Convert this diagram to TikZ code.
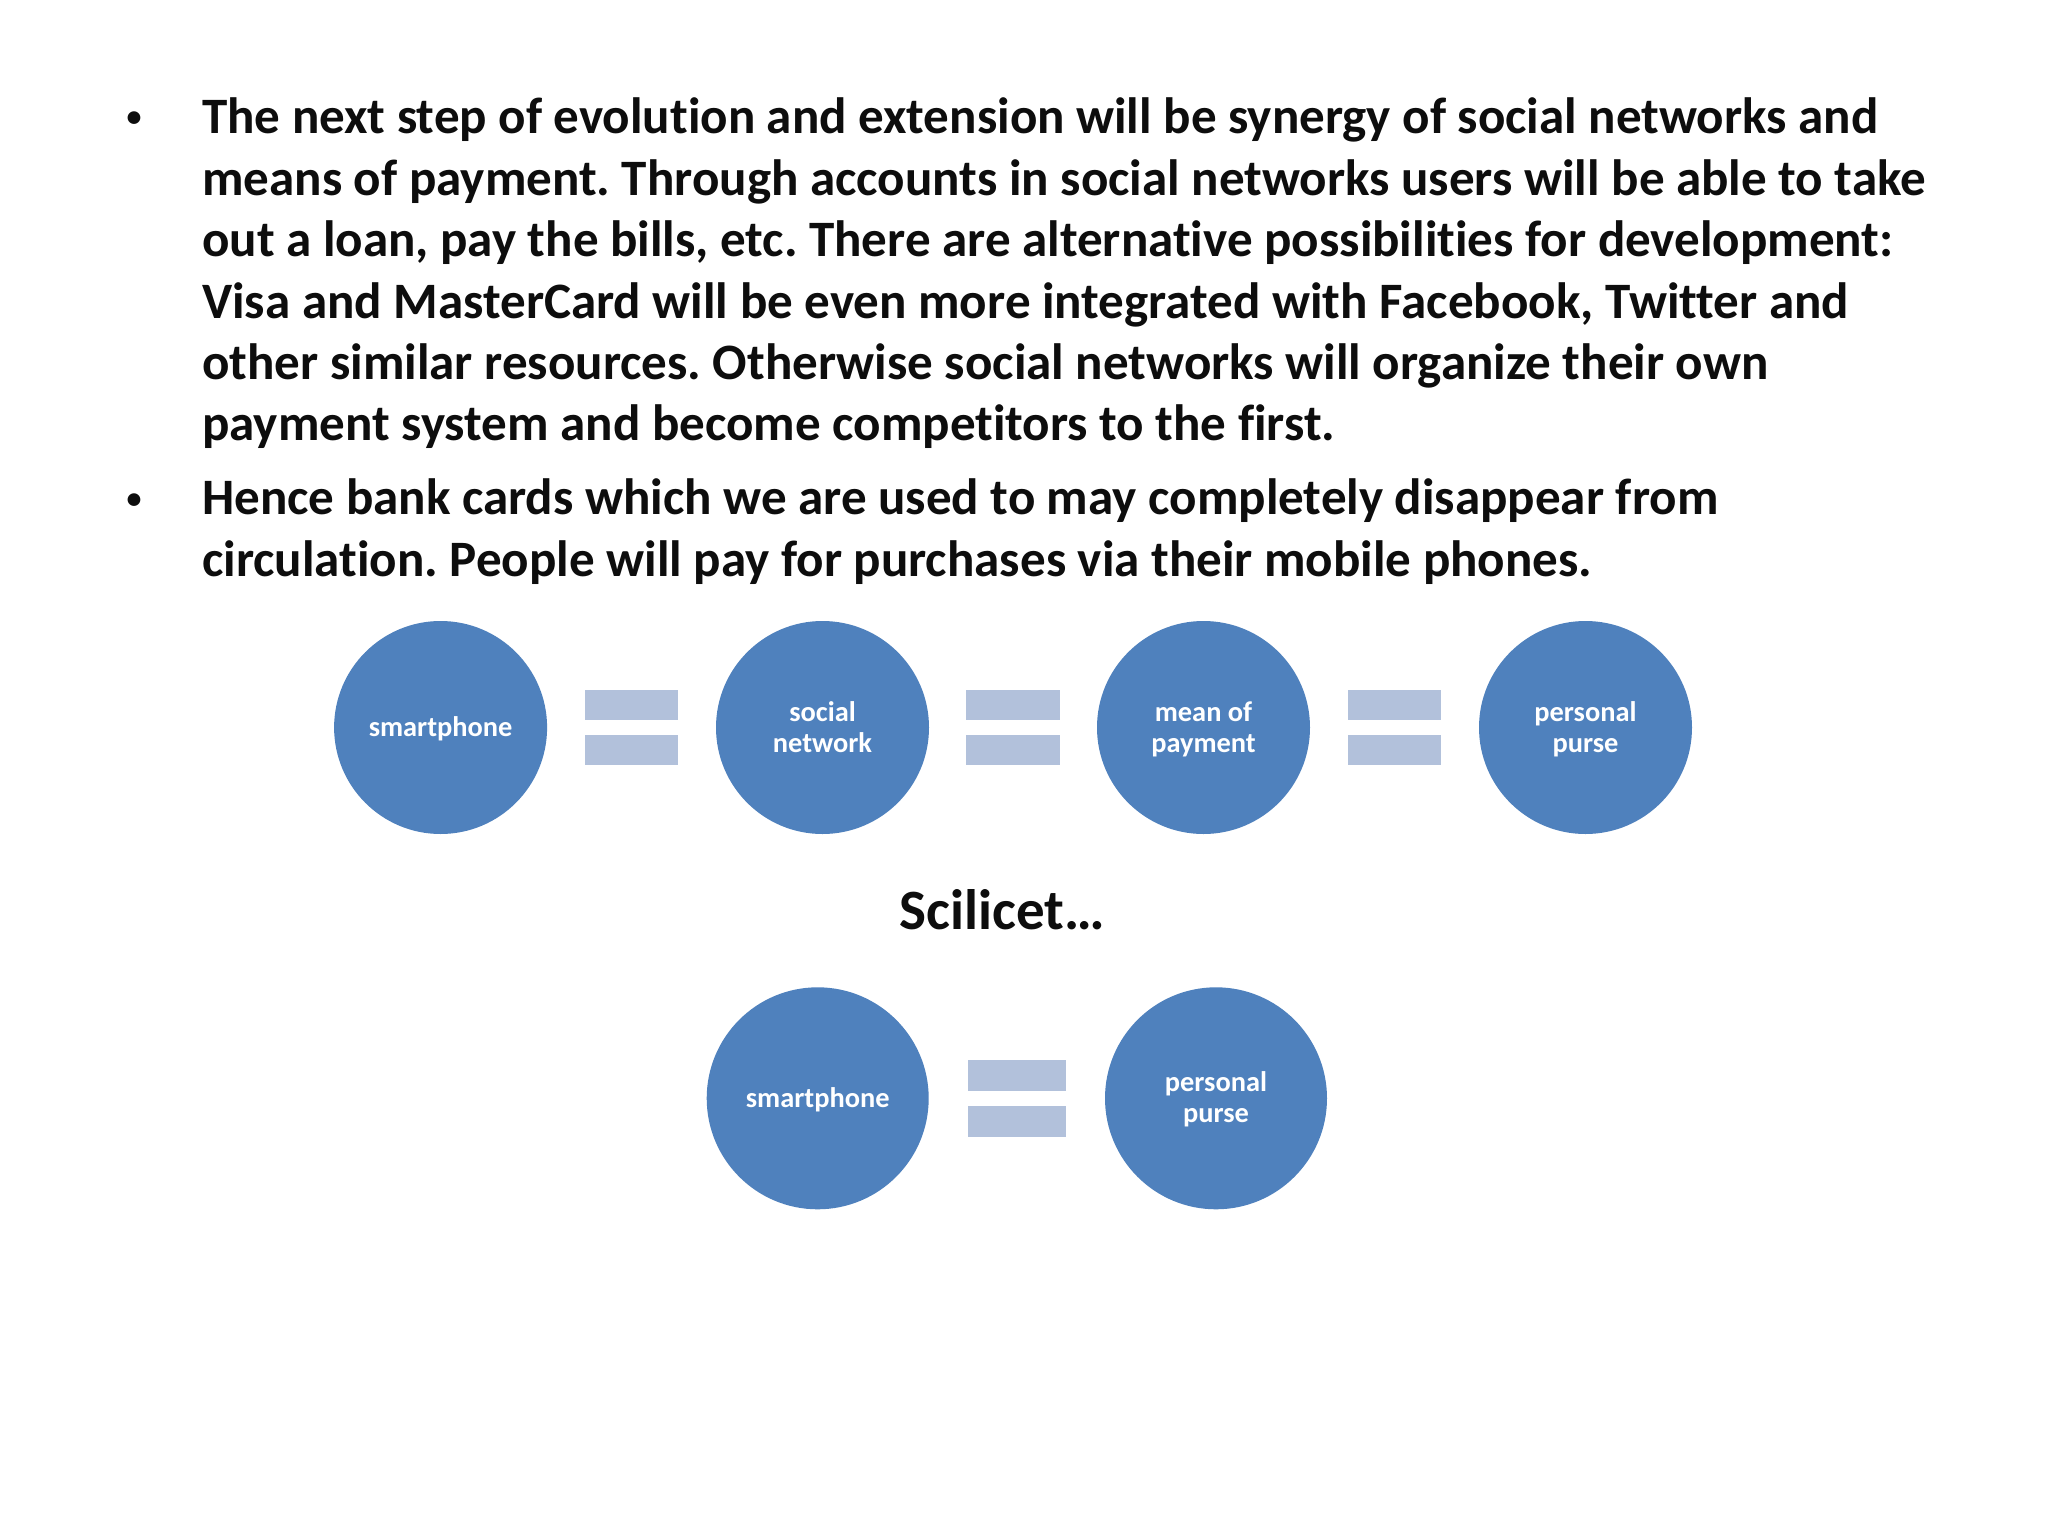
\documentclass[tikz,border=0pt]{standalone}
\usepackage{fontspec}
\setmainfont[Ligatures=NoCommon]{Carlito}
\definecolor{cblue}{HTML}{4F81BD}
\definecolor{cbar}{HTML}{B2C1DB}
\newcommand{\ls}{\rule[-0.18em]{0pt}{1em}}
\tikzset{
  x=1pt,y=-1pt,
  body/.style={anchor=base west,inner sep=0pt,font=\fontsize{51.05}{51.05}\selectfont\bfseries\frenchspacing,text=black!95},
  dotb/.style={anchor=base west,inner sep=0pt,font=\fontsize{30}{30}\selectfont\bfseries,text=black!95},
  disc/.style={circle,fill=cblue,inner sep=0pt,text=white,align=center,font=\fontsize{28.4}{31}\selectfont\bfseries},
  bar/.style={fill=cbar,inner sep=0pt,anchor=north west}
}
\begin{document}
\begin{tikzpicture}
\useasboundingbox (0,0) rectangle (2048,1536);
\fill[white] (0,0) rectangle (2048,1536);
\node[dotb] (b1) at (126.5,126.5) {•};
\node[dotb] (b2) at (126.5,508) {•};
\node[body] (l1) at (202,134) {The next step of evolution and extension will be synergy of social networks and};
\node[body] (l2) at (202,195.2) {means of payment. Through accounts in social networks users will be able to take};
\node[body] (l3) at (202,256.5) {out a loan, pay the bills, etc. There are alternative possibilities for development:};
\node[body] (l4) at (202,318) {Visa and MasterCard will be even more integrated with Facebook, Twitter and};
\node[body] (l5) at (202,379.2) {other similar resources. Otherwise social networks will organize their own};
\node[body] (l6) at (202,440.7) {payment system and become competitors to the first.};
\node[body] (l7) at (202,514.2) {Hence bank cards which we are used to may completely disappear from};
\node[body] (l8) at (202,576) {circulation. People will pay for purchases via their mobile phones.};
\node[disc,minimum size=213pt] (c1) at (440.6,727.5) {\ls smartphone};
\node[disc,minimum size=213pt] (c2) at (822.5,727.5) {\ls social\\\ls network};
\node[disc,minimum size=213pt] (c3) at (1203.5,727.5) {\ls mean of\\\ls payment};
\node[disc,minimum size=213pt] (c4) at (1585.5,727.5) {\ls personal\\\ls purse};
\foreach \n/\x in {e1a/585,e2a/966.2,e3a/1348}{
  \node[bar,minimum width=93.2pt,minimum height=30pt] (\n) at (\x,690) {};
}
\foreach \n/\x in {e1b/585,e2b/966.2,e3b/1348}{
  \node[bar,minimum width=93.2pt,minimum height=30pt] (\n) at (\x,735) {};
}
\node[anchor=base,inner sep=0pt,font=\fontsize{57}{57}\selectfont\bfseries,text=black!95] (s) at (1002,929) {Scilicet…};
\node[disc,minimum size=222pt] (d1) at (817.7,1098.3) {\ls smartphone};
\node[disc,minimum size=222pt] (d2) at (1216,1098.3) {\ls personal\\\ls purse};
\node[bar,minimum width=97.5pt,minimum height=31pt] (f1) at (967.8,1059.7) {};
\node[bar,minimum width=97.5pt,minimum height=31pt] (f2) at (967.8,1106.2) {};
\end{tikzpicture}
\end{document}
